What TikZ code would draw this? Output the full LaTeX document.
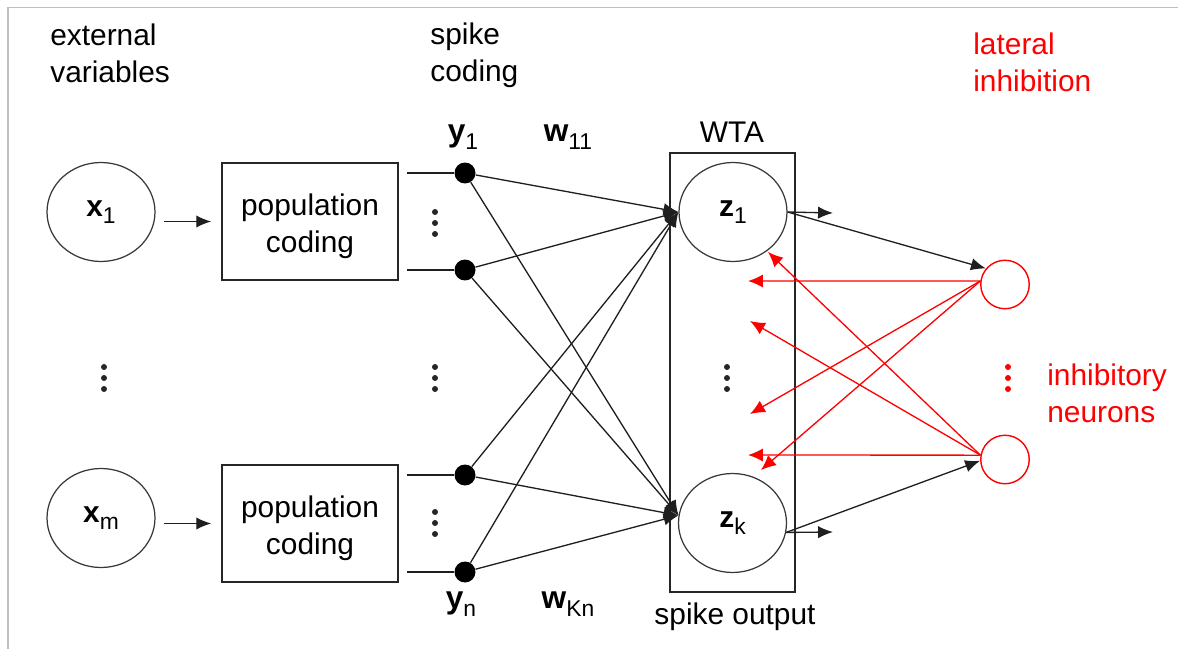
\documentclass[tikz,border=0pt]{standalone}
\usepackage{fontspec}
\setmainfont{Liberation Sans}
\usetikzlibrary{arrows.meta,shapes.geometric}

% bold variable with a plain, lowered index
\newcommand{\varsub}[3]{{\fontsize{#1}{#1}\selectfont\bfseries #2}{\fontsize{13}{13}\selectfont\raisebox{-4.2pt}{#3}}}

\begin{document}
\begin{tikzpicture}[x=0.02cm, y=-0.02cm,
  txt/.style={inner sep=0, align=left, font=\fontsize{17}{21}\selectfont},
  ctxt/.style={inner sep=0, align=center, font=\fontsize{17}{21}\selectfont},
  var/.style={ellipse, draw=black!78, line width=0.7pt, minimum width=2.16cm,
    minimum height=1.98cm, inner sep=0},
  pcbox/.style={rectangle, draw=black!85, line width=0.9pt, minimum width=3.52cm,
    minimum height=2.34cm, inner sep=0},
  wtabox/.style={rectangle, draw=black!85, line width=1pt, minimum width=2.5cm,
    minimum height=8.78cm, inner sep=0},
  spk/.style={circle, fill=black, minimum size=0.42cm, inner sep=0},
  inh/.style={circle, draw=red, line width=0.8pt, minimum size=0.97cm, inner sep=0},
  wire/.style={line width=0.75pt, draw=black!88},
  arr/.style={-{Latex[length=8.5pt,width=7pt]}},
  inhib/.style={draw=red, line width=0.75pt, -{Latex[length=8.5pt,width=7.5pt]}},
  frame/.style={draw=black!25, line width=1.1pt},
  dotmark/.style={circle, fill=#1, minimum size=3.4pt, inner sep=0},
  dotmark/.default=black!85
]
\useasboundingbox (0,0) rectangle (1178,649);
\draw[frame] (8,649) -- (8,7.5) -- (1178,7.5);

% column headings
\node[txt, anchor=west] (hext) at (50,53) {external\\variables};
\node[txt, anchor=west] (hspk) at (430,55) {spike\\coding};
\node[txt, anchor=west, text=red] (hlat) at (973,62) {lateral\\inhibition};
\node[txt, anchor=west, text=red] (hinh) at (1047,393) {inhibitory\\neurons};

% external variables and population coders
\node[var] (x1) at (101,212) {\varsub{17}{x}{1}};
\node[var] (xm) at (101,518) {\varsub{17}{x}{m}};
\node[pcbox] (pc1) at (310,221.5) {};
\node[pcbox] (pc2) at (310,523.5) {};
\node[ctxt] (pc1t) at (310,226.5) {population\\coding};
\node[ctxt] (pc2t) at (310,528.5) {population\\coding};
\draw[wire, arr, shorten <=4.5pt, shorten >=5.7pt] (x1.east |- pc1.west) -- (pc1.west);
\draw[wire, arr, shorten <=4.5pt, shorten >=5.7pt] (xm.east |- pc2.west) -- (pc2.west);

% spike coding neurons
\node[spk] (y1) at (465,173) {};
\node[spk] (y2) at (465,270) {};
\node[spk] (y3) at (465,475) {};
\node[spk] (yn) at (465,572) {};
\foreach \s/\p in {y1/pc1, y2/pc1, y3/pc2, yn/pc2}
  \draw[wire, shorten <=4.5pt] (\p.east |- \s) -- (\s);

\node[ctxt] (ly1) at (463,137) {\varsub{18}{y}{1}};
\node[ctxt] (lw11) at (568,137) {\varsub{18}{w}{11}};
\node[ctxt] (lyn) at (461,604) {\varsub{18}{y}{n}};
\node[ctxt] (lwkn) at (568,604) {\varsub{18}{w}{Kn}};

% WTA circuit
\node[wtabox] (wta) at (732.5,372.5) {};
\node[ctxt] (lwta) at (732,132) {WTA};
\node[ctxt] (lout) at (735,617) {spike output};
\node[var] (z1) at (733,212) {\varsub{17}{z}{1}};
\node[var] (zk) at (732.5,523) {\varsub{17}{z}{k}};

% weighted connections
\foreach \s in {y1,y2,y3,yn}{
  \draw[wire, arr] (\s) -- (z1.west);
  \draw[wire, arr] (\s) -- (zk.172);
}

% spike outputs
\coordinate (o1) at (833,213);
\coordinate (ok) at (833,532);
\draw[wire, arr] (z1.east) -- (o1);
\draw[wire, arr] (zk.-10) -- (ok);

% inhibitory neurons
\node[inh] (iA) at (1005,284.5) {};
\node[inh] (iB) at (1005,459.5) {};
\draw[wire, arr] (z1.east) -- (iA.140);
\draw[wire, arr] (zk.-10) -- (iB.183);

% lateral inhibition back onto the WTA units
\coordinate (tA1) at (748,281);
\coordinate (tA2) at (750,414);
\coordinate (tA3) at (761,470);
\coordinate (tB1) at (748,455);
\coordinate (tB2) at (750,321);
\coordinate (tB3) at (768,252);
\foreach \t in {tA1,tA2,tA3} \draw[inhib] (iA.172) -- (\t);
\foreach \t in {tB1,tB2,tB3} \draw[inhib] (iB.170) -- (\t);

% vertical ellipses
\foreach \cx/\cy/\c in {104/378/black!85, 435/378/black!85, 435/223/black!85,
                        435/523/black!85, 727/378/black!85, 1008/378/red}{
  \node[dotmark=\c] (d\cx\cy a) at (\cx,\cy-11) {};
  \node[dotmark=\c] (d\cx\cy b) at (\cx,\cy) {};
  \node[dotmark=\c] (d\cx\cy c) at (\cx,\cy+11) {};
}
\end{tikzpicture}
\end{document}
